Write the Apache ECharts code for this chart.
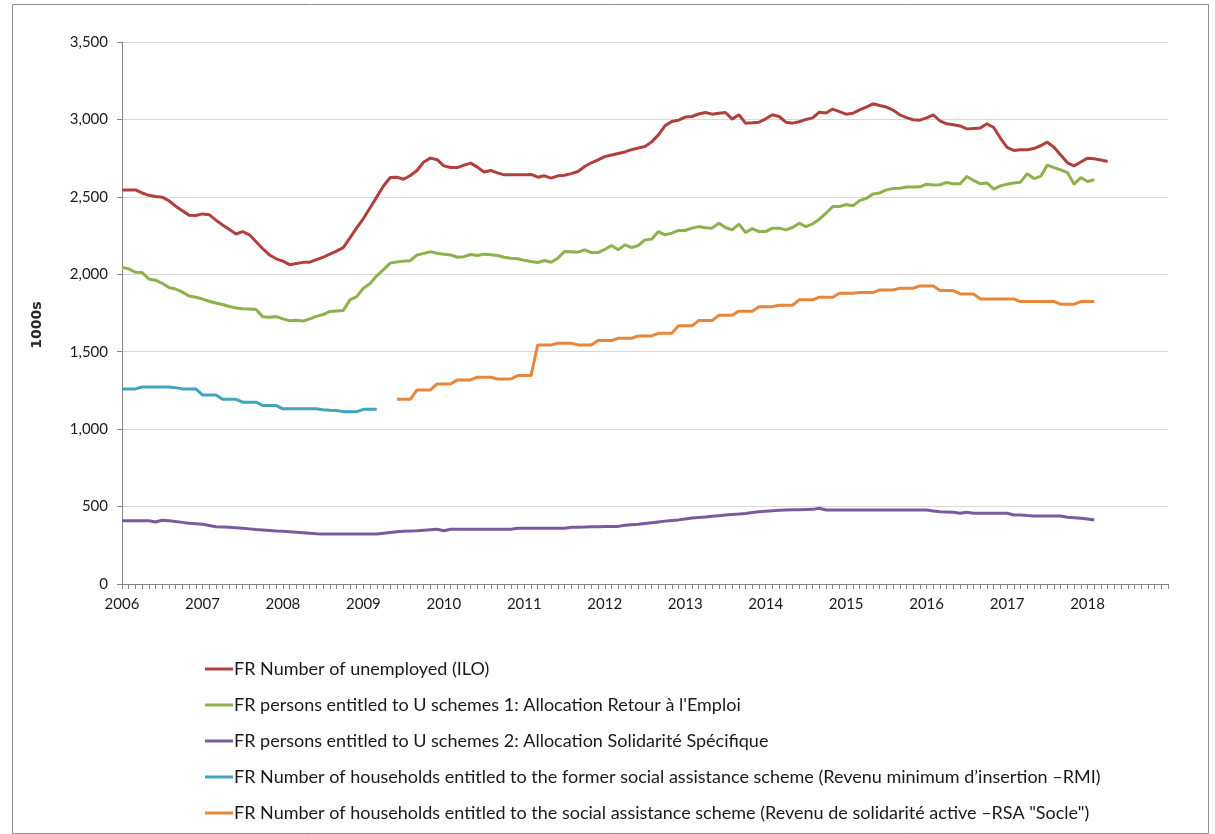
<!DOCTYPE html>
<html>
<head>
<meta charset="utf-8">
<script src="https://cdn.jsdelivr.net/npm/echarts@6/dist/echarts.min.js"></script>
<style>
html,body{margin:0;padding:0;background:#fff;}
#chart{width:1215px;height:834px;}
</style>
</head>
<body>
<div id="chart"></div>
<script>
// Monthly series, first month = startMonth (index 0 = Jan 2006)
const yearLabels = ['2006','2007','2008','2009','2010','2011','2012','2013','2014','2015','2016','2017','2018'];
const seriesNames = [
  'FR Number of unemployed (ILO)',
  "FR persons entitled to U schemes 1: Allocation Retour à l'Emploi",
  'FR persons entitled to U schemes 2: Allocation Solidarité Spécifique',
  'FR Number of households entitled to the former social assistance scheme (Revenu minimum d’insertion –RMI)',
  'FR Number of households entitled to the social assistance scheme (Revenu de solidarité active –RSA "Socle")'
];
const unemployedStart = 0;
const unemployed = [2545,2545,2545,2525,2510,2502,2498,2475,2440,2410,
 2382,2380,2390,2385,2350,2318,2290,2260,2276,2255,
 2210,2165,2125,2100,2085,2062,2070,2077,2078,2095,
 2110,2130,2150,2172,2235,2300,2360,2430,2500,2570,
 2625,2627,2614,2638,2670,2725,2750,2740,2700,2690,
 2689,2705,2718,2692,2660,2670,2655,2642,2642,2642,
 2642,2645,2627,2636,2621,2636,2640,2650,2664,2696,
 2720,2739,2760,2770,2780,2790,2805,2815,2825,2855,
 2900,2960,2987,2995,3015,3019,3035,3045,3034,3040,
 3045,3002,3030,2976,2978,2982,3004,3030,3019,2982,
 2976,2985,3000,3010,3047,3041,3067,3050,3034,3040,
 3062,3080,3101,3090,3080,3060,3030,3012,2998,2995,
 3010,3030,2990,2972,2965,2958,2939,2942,2944,2972,
 2948,2880,2820,2800,2804,2804,2812,2830,2853,2820,
 2770,2720,2700,2725,2750,2746,2738,2728];
const areStart = 0;
const are = [2045,2035,2013,2011,1970,1962,1942,1914,1905,1885,
 1860,1852,1840,1826,1815,1805,1792,1783,1777,1776,
 1772,1725,1723,1727,1712,1700,1703,1698,1712,1728,
 1740,1760,1763,1766,1835,1856,1910,1940,1990,2030,
 2072,2080,2085,2088,2125,2135,2145,2136,2130,2125,
 2110,2114,2128,2121,2130,2126,2121,2110,2104,2100,
 2090,2082,2076,2089,2078,2104,2147,2145,2143,2158,
 2140,2140,2160,2186,2158,2190,2173,2186,2222,2227,
 2276,2255,2266,2283,2283,2298,2308,2300,2298,2330,
 2302,2287,2324,2270,2295,2276,2276,2298,2298,2287,
 2302,2330,2308,2326,2356,2395,2438,2438,2450,2442,
 2476,2490,2519,2525,2545,2554,2556,2563,2563,2565,
 2582,2576,2578,2593,2584,2584,2632,2606,2584,2590,
 2550,2571,2582,2590,2595,2649,2618,2632,2705,2689,
 2674,2657,2582,2625,2599,2610];
const assStart = 0;
const ass = [409,409,409,409,409,400,412,408,403,398,
 392,389,386,378,370,368,366,363,360,356,
 352,349,346,342,340,337,334,331,328,325,
 323,323,323,323,323,323,323,323,323,328,
 333,338,340,342,344,347,350,353,344,353,
 353,353,353,353,353,353,353,353,353,360,
 360,360,360,360,360,360,360,366,367,368,
 370,370,372,372,372,380,383,386,391,396,
 401,406,410,414,420,426,430,433,437,441,
 445,449,452,456,461,466,470,473,476,478,
 479,480,481,482,489,478,478,478,478,478,
 478,478,478,478,478,478,478,478,478,478,
 478,472,467,465,463,457,463,457,457,457,
 457,457,457,446,446,442,439,439,439,439,
 439,431,428,425,420,413];
const rmiStart = 0;
const rmi = [1260,1260,1260,1272,1272,1272,1272,1272,1268,1260,
 1260,1260,1221,1221,1221,1193,1193,1193,1174,1174,
 1174,1152,1152,1152,1131,1131,1131,1131,1131,1131,
 1125,1122,1120,1113,1113,1113,1128,1128,1128];
const rsaStart = 41;
const rsa = [1193,1193,1193,1253,1253,1253,1292,1292,1292,1318,1318,1318,
 1335,1335,1335,1324,1324,1324,1346,1346,1346,1544,1544,1544,
 1555,1555,1555,1544,1544,1544,1572,1572,1572,1587,1587,1587,
 1602,1602,1602,1619,1619,1619,1667,1667,1667,1701,1701,1701,
 1735,1735,1735,1762,1762,1762,1791,1791,1791,1800,1800,1800,
 1835,1835,1835,1852,1852,1852,1878,1878,1878,1882,1882,1882,
 1899,1899,1899,1910,1910,1910,1925,1925,1925,1895,1895,1895,
 1873,1873,1873,1841,1841,1841,1841,1841,1841,1824,1824,1824,
 1824,1824,1824,1807,1807,1807,1824,1824,1824];

const colors = ['#B0403C','#8DB24C','#7A5A9E','#41A3BC','#E8863C'];
const toPairs = (arr, start) => arr.map((v, k) => [start + k, v]);
const seriesData = [
  toPairs(unemployed, unemployedStart),
  toPairs(are, areStart),
  toPairs(ass, assStart),
  toPairs(rmi, rmiStart),
  toPairs(rsa, rsaStart)
];

const chart = echarts.init(document.getElementById('chart'), null, {renderer: 'canvas'});
const font = 'Lato, "Noto Sans", sans-serif';
chart.setOption({
  animation: false,
  color: colors,
  grid: {left: 122, right: 47, top: 42, bottom: 250, containLabel: false},
  xAxis: {
    type: 'value', min: 0, max: 156, interval: 12,
    axisLine: {show: true, lineStyle: {color: '#868686', width: 1}},
    axisTick: {show: true, length: 5, lineStyle: {color: '#868686'}},
    minorTick: {show: true, splitNumber: 12, length: 5, lineStyle: {color: '#868686'}},
    splitLine: {show: false},
    axisLabel: {
      margin: 13, color: '#1a1a1a', fontSize: 15, fontFamily: font,
      formatter: v => (yearLabels[v / 12] !== undefined ? yearLabels[v / 12] : '')
    }
  },
  yAxis: {
    type: 'value', min: 0, max: 3500, interval: 500,
    name: '1000s', nameLocation: 'middle', nameGap: 78, nameRotate: 90,
    nameTextStyle: {fontFamily: '"DejaVu Sans", sans-serif', fontWeight: 'bold', fontSize: 14, color: '#262626', padding: [0, 0, 0, -24]},
    axisLine: {show: true, lineStyle: {color: '#868686', width: 1}},
    axisTick: {show: true, length: 5, lineStyle: {color: '#868686'}},
    splitLine: {show: true, lineStyle: {color: '#d9d9d9', width: 1}},
    axisLabel: {
      margin: 14, color: '#1a1a1a', fontSize: 15, fontFamily: font,
      formatter: v => v.toLocaleString('en-US')
    }
  },
  legend: {
    orient: 'vertical', left: 200, top: 654,
    icon: 'rect', itemWidth: 28, itemHeight: 3, itemGap: 16,
    textStyle: {fontFamily: font, fontSize: 18, color: '#1a1a1a', lineHeight: 20, padding: [0,0,0,-4]},
    data: seriesNames
  },
  graphic: [{
    type: 'rect', left: 10, top: 2, silent: true,
    shape: {width: 1196, height: 829},
    style: {fill: 'none', stroke: '#8c8c8c', lineWidth: 1}
  }],
  series: seriesNames.map((name, k) => ({
    name: name, type: 'line', data: seriesData[k],
    showSymbol: false, symbol: 'none',
    lineStyle: {width: 3, color: colors[k]},
    itemStyle: {color: colors[k]}
  }))
});
</script>
</body>
</html>
